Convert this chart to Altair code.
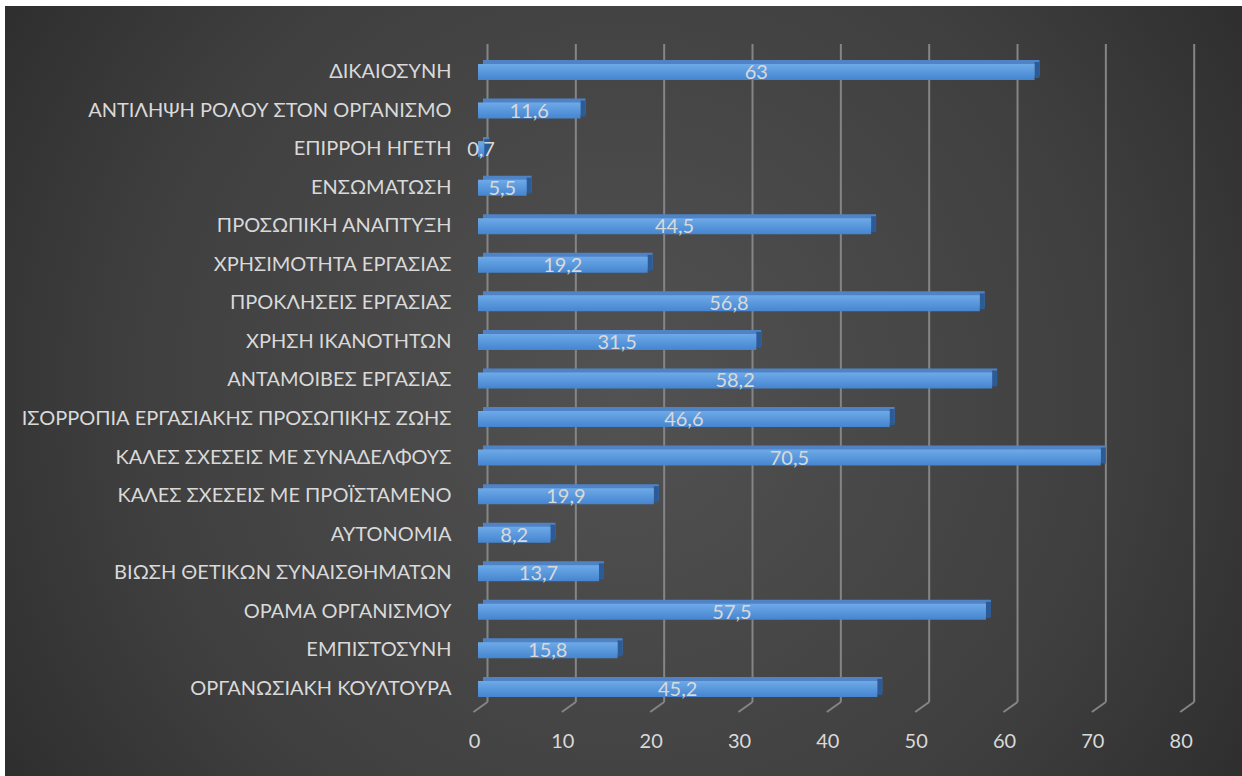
import altair as alt
import pandas as pd

categories = [
    "ΔΙΚΑΙΟΣΥΝΗ",
    "ΑΝΤΙΛΗΨΗ ΡΟΛΟΥ ΣΤΟΝ ΟΡΓΑΝΙΣΜΟ",
    "ΕΠΙΡΡΟΗ ΗΓΕΤΗ",
    "ΕΝΣΩΜΑΤΩΣΗ",
    "ΠΡΟΣΩΠΙΚΗ ΑΝΑΠΤΥΞΗ",
    "ΧΡΗΣΙΜΟΤΗΤΑ ΕΡΓΑΣΙΑΣ",
    "ΠΡΟΚΛΗΣΕΙΣ ΕΡΓΑΣΙΑΣ",
    "ΧΡΗΣΗ ΙΚΑΝΟΤΗΤΩΝ",
    "ΑΝΤΑΜΟΙΒΕΣ ΕΡΓΑΣΙΑΣ",
    "ΙΣΟΡΡΟΠΙΑ ΕΡΓΑΣΙΑΚΗΣ ΠΡΟΣΩΠΙΚΗΣ ΖΩΗΣ",
    "ΚΑΛΕΣ ΣΧΕΣΕΙΣ ΜΕ ΣΥΝΑΔΕΛΦΟΥΣ",
    "ΚΑΛΕΣ ΣΧΕΣΕΙΣ ΜΕ ΠΡΟΪΣΤΑΜΕΝΟ",
    "ΑΥΤΟΝΟΜΙΑ",
    "ΒΙΩΣΗ ΘΕΤΙΚΩΝ ΣΥΝΑΙΣΘΗΜΑΤΩΝ",
    "ΟΡΑΜΑ ΟΡΓΑΝΙΣΜΟΥ",
    "ΕΜΠΙΣΤΟΣΥΝΗ",
    "ΟΡΓΑΝΩΣΙΑΚΗ ΚΟΥΛΤΟΥΡΑ",
]
values = [63, 11.6, 0.7, 5.5, 44.5, 19.2, 56.8, 31.5, 58.2, 46.6, 70.5, 19.9, 8.2, 13.7, 57.5, 15.8, 45.2]
ticks = [0, 10, 20, 30, 40, 50, 60, 70, 80]

labels = [("%g" % v).replace(".", ",") for v in values]
df = pd.DataFrame({"cat": categories, "value": values, "label": labels})
tick_df = pd.DataFrame({"t": ticks})

W = 706.7
H = 655.5
PL, PT = 478, 52.7
PR = 1242 - PL - W
PB = 776 - PT - H

FONT = "Lato"
TXT = "#d9d9d9"
FS = 20

xscale = alt.Scale(domain=[0, 80], nice=False, zero=True)
yscale = alt.Scale(domain=categories, paddingInner=0.585, paddingOuter=0.2925)

bg = alt.Chart(alt.Data(values=[{}])).mark_rect(
    fill={
        "gradient": "radial",
        "x1": 0.5, "y1": 0.5, "r1": 0,
        "x2": 0.5, "y2": 0.5, "r2": 0.72,
        "stops": [
            {"offset": 0, "color": "#525252"},
            {"offset": 0.55, "color": "#3f3f3f"},
            {"offset": 1, "color": "#232323"},
        ],
    }
).encode(
    x=alt.value(5 - PL), x2=alt.value(1242 - PL),
    y=alt.value(6 - PT), y2=alt.value(776 - PT),
)

grid_back = alt.Chart(tick_df).mark_rule(color="#858585", strokeWidth=2, xOffset=9.5).encode(
    x=alt.X("t:Q", scale=xscale,
            axis=alt.Axis(values=ticks, domain=False, ticks=False, grid=False,
                          labelColor=TXT, labelFont=FONT, labelFontSize=FS,
                          labelFlush=False, labelPadding=23, labelOffset=-4,
                          title=None, zindex=2)),
    y=alt.value(44 - PT), y2=alt.value(702 - PT),
)
grid_diag = alt.Chart(tick_df).mark_rule(color="#858585", strokeWidth=2, xOffset=9.5, x2Offset=-4.5).encode(
    x=alt.X("t:Q", scale=xscale), x2="t:Q",
    y=alt.value(702 - PT), y2=alt.value(712 - PT),
)

base = alt.Chart(df)
yenc = alt.Y("cat:N", scale=yscale, sort=categories,
             axis=alt.Axis(domain=False, ticks=False, grid=False, title=None,
                           labelColor=TXT, labelFont=FONT, labelFontSize=FS,
                           labelPadding=27, labelLimit=600, zindex=2))

top_face = base.mark_bar(color="#4f83c6", xOffset=5, yOffset=-4).encode(
    x=alt.X("value:Q", scale=xscale), y=yenc,
)
side_face = base.mark_bar(color="#2d5b96", x2Offset=5, yOffset=-2).encode(
    x=alt.X("value:Q", scale=xscale), x2="value:Q", y=yenc,
)
front = base.mark_bar(
    fill={
        "gradient": "linear", "x1": 0, "y1": 0, "x2": 0, "y2": 1,
        "stops": [
            {"offset": 0, "color": "#6eaae8"},
            {"offset": 1, "color": "#4585d0"},
        ],
    }
).encode(x=alt.X("value:Q", scale=xscale), y=yenc)

text = base.transform_calculate(mid="datum.value / 2").mark_text(
    color=TXT, font=FONT, fontSize=FS, align="center", baseline="middle", dy=1
).encode(x=alt.X("mid:Q", scale=xscale), y=yenc, text="label:N")

chart = alt.layer(bg, grid_back, grid_diag, top_face, side_face, front, text).properties(
    width=W, height=H,
    autosize=alt.AutoSizeParams(type="none"),
    padding={"left": PL, "top": PT, "right": PR, "bottom": PB},
    background="white",
).configure_view(stroke=None)

chart.save("out.html", embed_options={"renderer": "svg", "actions": False})
